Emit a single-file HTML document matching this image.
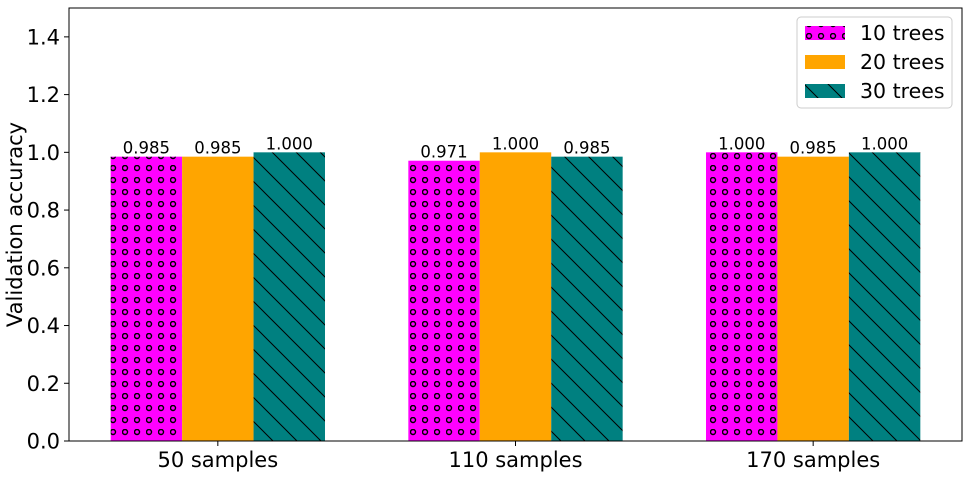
<!DOCTYPE html>
<html><head><meta charset="utf-8"><style>
body{margin:0;background:#fff;}
svg text{font-family:"DejaVu Sans","Liberation Sans",sans-serif;fill:#000;}
</style></head><body>
<svg id="chart" width="969" height="475" xmlns="http://www.w3.org/2000/svg">
<defs>
<pattern id="circ" patternUnits="userSpaceOnUse" width="12" height="12" x="110" y="441">
<rect width="12" height="12" fill="#ff00ff"/>
<circle cx="3" cy="3" r="2.5" fill="none" stroke="#000" stroke-width="1.4"/>
</pattern>
<pattern id="diag" patternUnits="userSpaceOnUse" width="24" height="24">
<rect width="24" height="24" fill="#008080"/>
<path d="M-6,-6 L30,30 M-6,18 L6,30 M18,-6 L30,6" stroke="#000" stroke-width="1"/>
</pattern>
</defs>
<g id="bars"></g>
<g id="axes"></g>
<g>
<rect x="797" y="17" width="155" height="91" rx="4" fill="#fff" fill-opacity="0.8" stroke="#ccc"/>
<rect x="805" y="26" width="40" height="14" fill="url(#circ)"/>
<text x="860" y="40" font-size="20.5">10 trees</text>
<rect x="805" y="55" width="40" height="14" fill="#ffa500"/>
<text x="860" y="69" font-size="20.5">20 trees</text>
<rect x="805" y="84" width="40" height="14" fill="url(#diag)"/>
<text x="860" y="98" font-size="20.5">30 trees</text>
</g>
</svg>
<script>
const categories = ["50 samples","110 samples","170 samples"];
const trees10 = [0.985,0.971,1.000];
const trees20 = [0.985,1.000,0.985];
const trees30 = [1.000,0.985,1.000];
const yTicks = [0.0,0.2,0.4,0.6,0.8,1.0,1.2,1.4];
const NS="http://www.w3.org/2000/svg";
const L=69,R=962,T=8,B=441;
const xs=v=>L+(v+0.5)/3*(R-L);
const ys=v=>B-v/1.5*(B-T);
const bw=0.24;
const series=[{d:trees10,f:"url(#circ)",n:"10-trees"},{d:trees20,f:"#ffa500",n:"20-trees"},{d:trees30,f:"url(#diag)",n:"30-trees"}];
const bars=document.getElementById('bars'),axes=document.getElementById('axes');
function mk(t,a,p){const e=document.createElementNS(NS,t);for(const k in a)e.setAttribute(k,a[k]);p.appendChild(e);return e;}
series.forEach((s,si)=>{
 s.d.forEach((v,i)=>{
  const x0=xs(i+(si-1)*bw-bw/2),x1=xs(i+(si-1)*bw+bw/2);
  const r=mk('rect',{x:x0,y:ys(v),width:x1-x0,height:B-ys(v),fill:s.f},bars);
  
  
  const t=mk('text',{x:(x0+x1)/2,y:ys(v)-3,'font-size':'16.5','text-anchor':'middle'},bars);
  t.textContent=v.toFixed(3);
  
  
 });
});
mk('rect',{x:L,y:T,width:R-L,height:B-T,fill:'none',stroke:'#000','stroke-width':1},axes);
yTicks.forEach(v=>{
 mk('line',{x1:L-5,x2:L,y1:ys(v),y2:ys(v),stroke:'#000'},axes);
 const t=mk('text',{x:L-9,y:ys(v)+7.5,'font-size':'21','text-anchor':'end'},axes);
 t.textContent=v.toFixed(1);
 
 
});
categories.forEach((c,i)=>{
 mk('line',{x1:xs(i),x2:xs(i),y1:B,y2:B+5,stroke:'#000'},axes);
 const t=mk('text',{x:xs(i),y:B+26,'font-size':'21','text-anchor':'middle'},axes);
 t.textContent=c;
 
 
});
const yt=mk('text',{x:22,y:(T+B)/2,'font-size':'21','text-anchor':'middle',transform:'rotate(-90 22 '+((T+B)/2)+')'},axes);
yt.textContent='Validation accuracy';


</script>
</body></html>
